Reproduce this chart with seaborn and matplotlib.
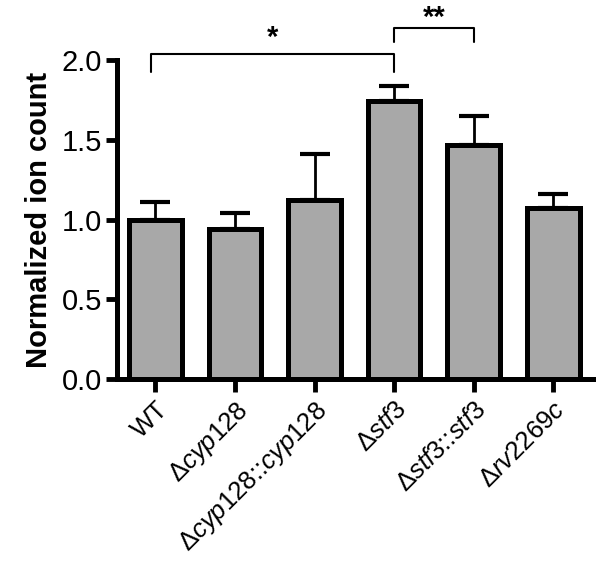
import matplotlib
matplotlib.use("Agg")
import matplotlib.pyplot as plt
import seaborn as sns
import pandas as pd

sns.set_style("ticks")
plt.rcParams['font.family'] = ['Liberation Sans', 'DejaVu Sans']
plt.rcParams['mathtext.fontset'] = 'custom'
plt.rcParams['mathtext.rm'] = 'Liberation Sans'
plt.rcParams['mathtext.it'] = 'Liberation Sans:italic'
plt.rcParams['axes.labelcolor'] = 'black'

# data
strains = ['WT', r'$\Delta\mathit{cyp128}$', r'$\Delta\mathit{cyp128}$::$\mathit{cyp128}$',
           r'$\Delta\mathit{stf3}$', r'$\Delta\mathit{stf3}$::$\mathit{stf3}$', r'$\Delta\mathit{rv2269c}$']
means = [1.00, 0.94, 1.12, 1.74, 1.47, 1.07]
errs = [0.11, 0.10, 0.29, 0.10, 0.18, 0.09]

df = pd.DataFrame({'strain': strains, 'value': means})

fig = plt.figure(figsize=(6.04, 5.66), dpi=100)
ax = fig.add_axes([0.194, 0.330, 0.788, 0.564])

# error bars (upper only), drawn under the bars
ax.errorbar(range(len(means)), means, yerr=[[0] * len(errs), errs], fmt='none',
            ecolor='black', elinewidth=2, capsize=11, capthick=3, zorder=1)
sns.barplot(data=df, x='strain', y='value', color='#a8a8a8', saturation=1,
            edgecolor='black', linewidth=3.6, width=0.66, errorbar=None, ax=ax, zorder=2)

ax.set_xlim(-0.48, 5.5)
ax.set_ylim(0, 2.0)
ax.set_yticks([0, 0.5, 1.0, 1.5, 2.0])
ax.set_yticklabels(['0.0', '0.5', '1.0', '1.5', '2.0'])
ax.set_xlabel('')
ax.set_ylabel('Normalized ion count', fontsize=21, fontweight='bold', labelpad=6, color='black')
ax.tick_params(axis='y', labelsize=21, width=3.5, length=8, direction='out',
               color='black', labelcolor='black', pad=3)
ax.tick_params(axis='x', labelsize=18.5, width=3.5, length=9, direction='out',
               color='black', labelcolor='black', pad=4)
plt.setp(ax.get_xticklabels(), rotation=45, ha='right', rotation_mode='anchor')
sns.despine(ax=ax)
for side in ['left', 'bottom']:
    ax.spines[side].set_linewidth(3.6)
    ax.spines[side].set_color('black')
ax.spines['left'].set_bounds(0, 2.0)

# significance brackets
def bracket(x1, x2, y, h, label, dy):
    ax.plot([x1, x1, x2, x2], [y - h, y, y, y - h], color='black', lw=1.5, clip_on=False)
    ax.text((x1 + x2) / 2, y + dy, label, ha='center', va='bottom', fontsize=21,
            fontweight='bold', color='black', clip_on=False)

bracket(-0.06, 3.0, 2.04, 0.115, '*', 0.01)
bracket(3.0, 4.0, 2.20, 0.09, '**', -0.025)

fig.savefig('out.png', dpi=100)
